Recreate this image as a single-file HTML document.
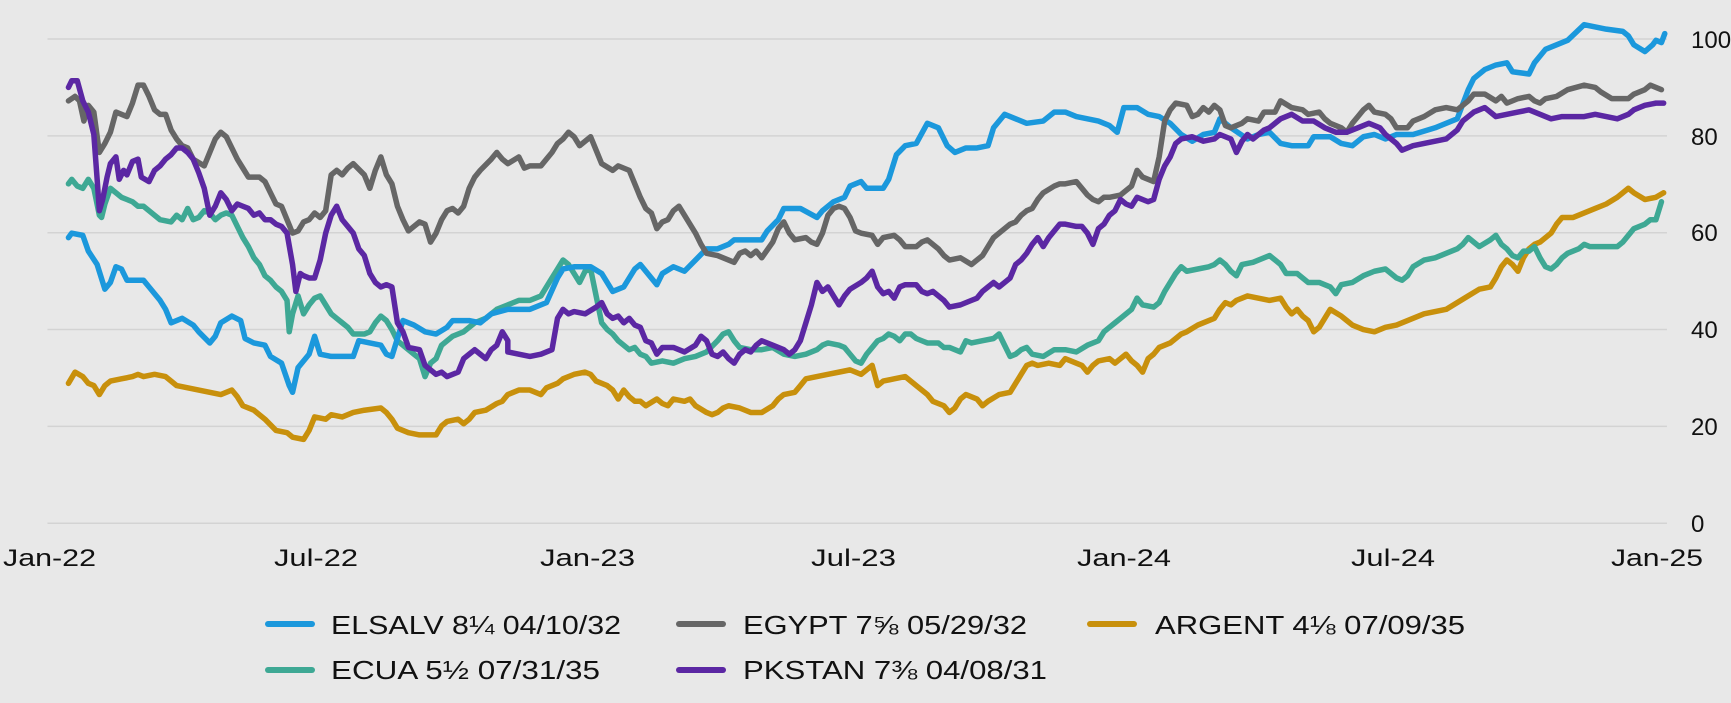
<!DOCTYPE html>
<html><head><meta charset="utf-8"><style>
html,body{margin:0;padding:0;background:#e8e8e8;}
svg{display:block;}
text{font-family:"Liberation Sans",sans-serif;fill:#111;}
</style></head><body>
<svg width="1731" height="703" viewBox="0 0 1731 703" xmlns="http://www.w3.org/2000/svg">
<rect width="1731" height="703" fill="#e8e8e8"/>
<svg x="0" y="0" width="1731" height="703" viewBox="0 0 1568 1568" preserveAspectRatio="none">
<g stroke="#d3d3d3" stroke-width="1.5" vector-effect="non-scaling-stroke">
<line x1="43" x2="1510" y1="87" y2="87" vector-effect="non-scaling-stroke"/>
<line x1="43" x2="1510" y1="303" y2="303" vector-effect="non-scaling-stroke"/>
<line x1="43" x2="1510" y1="519" y2="519" vector-effect="non-scaling-stroke"/>
<line x1="43" x2="1510" y1="735" y2="735" vector-effect="non-scaling-stroke"/>
<line x1="43" x2="1510" y1="951" y2="951" vector-effect="non-scaling-stroke"/>
<line x1="43" x2="1510" y1="1167" y2="1167" vector-effect="non-scaling-stroke"/>
</g>
<g fill="none" stroke-width="5.5" stroke-linejoin="round" stroke-linecap="round">
<polyline vector-effect="non-scaling-stroke" stroke="#c8900c" points="62,855 68,830 75,840 80,855 85,860 90,880 95,860 100,850 110,845 120,840 125,835 130,840 140,835 150,840 160,860 170,865 180,870 190,875 200,880 210,870 215,885 220,905 230,915 240,935 250,960 260,965 265,975 275,980 280,960 285,930 295,935 300,925 310,930 320,920 330,915 345,910 350,920 355,935 360,955 370,965 380,970 395,970 400,950 405,940 415,935 420,945 425,935 430,920 440,915 450,900 455,895 460,880 470,870 480,870 490,880 495,865 505,855 510,845 520,835 530,830 535,835 540,850 545,855 550,860 555,870 560,890 565,870 570,885 575,895 580,895 585,905 595,890 600,900 605,905 610,890 620,895 625,890 630,905 640,920 645,925 650,920 655,910 660,905 670,910 680,920 690,920 700,905 705,890 710,880 720,875 725,860 730,845 740,840 750,835 760,830 770,825 780,835 785,825 790,815 795,860 800,850 810,845 820,840 825,850 830,860 840,880 845,895 855,905 860,920 865,910 870,890 875,880 885,890 890,905 895,895 905,880 915,875 920,855 925,835 930,815 935,810 940,815 950,810 960,815 965,800 975,810 980,815 985,830 990,815 995,805 1005,800 1010,810 1015,800 1020,790 1025,805 1030,815 1035,830 1040,800 1045,790 1050,775 1060,765 1065,755 1070,745 1075,740 1085,725 1095,715 1100,710 1105,690 1110,675 1115,680 1120,670 1125,665 1130,660 1140,665 1150,670 1160,665 1165,685 1170,700 1175,690 1180,705 1185,715 1190,740 1195,730 1205,690 1215,705 1220,715 1225,725 1235,735 1245,740 1255,730 1265,725 1275,715 1280,710 1290,700 1300,695 1310,690 1320,675 1330,660 1340,645 1350,640 1355,620 1360,595 1365,580 1370,590 1375,605 1380,575 1385,555 1390,545 1395,540 1400,530 1405,520 1410,500 1415,485 1425,485 1435,475 1445,465 1455,455 1465,440 1475,420 1480,430 1490,445 1500,440 1507,430"/>
<polyline vector-effect="non-scaling-stroke" stroke="#3ea894" points="62,410 65,400 70,415 75,420 80,400 85,420 90,480 92,485 95,455 100,420 105,430 110,440 115,445 120,450 125,460 130,460 135,470 140,480 145,490 155,495 160,480 165,490 170,465 175,490 180,485 185,470 190,475 195,490 200,480 205,475 210,480 215,505 220,530 225,550 230,575 235,590 240,615 245,625 250,640 255,650 260,670 262,740 265,700 270,660 275,700 280,680 285,665 290,660 295,680 300,700 305,710 310,720 315,730 320,745 330,745 335,740 340,720 345,705 350,715 355,735 360,760 365,770 370,780 375,790 380,800 385,840 390,810 395,800 400,770 410,750 420,740 430,720 440,710 450,690 460,680 470,670 480,670 490,660 500,620 505,600 510,580 515,590 520,610 525,630 530,605 535,600 540,660 545,720 550,735 555,745 560,760 570,780 575,775 580,790 585,795 590,810 600,805 610,810 620,800 630,795 640,785 650,760 655,745 660,740 665,760 670,775 680,780 690,780 700,775 710,790 720,795 730,790 740,780 745,770 750,765 760,770 765,775 770,790 775,805 780,810 785,790 790,775 795,760 800,755 805,745 810,750 815,760 820,745 825,745 830,755 835,760 840,765 850,765 855,775 860,775 865,780 870,785 875,760 880,765 890,760 900,755 905,745 910,770 915,795 920,790 925,780 930,775 935,790 945,795 955,780 965,780 975,785 985,770 995,760 1000,740 1005,730 1010,720 1015,710 1020,700 1025,690 1030,665 1035,680 1045,685 1050,675 1055,650 1060,630 1065,610 1070,595 1075,605 1085,600 1095,595 1100,590 1105,580 1110,590 1115,605 1120,615 1125,590 1135,585 1145,575 1150,570 1155,580 1160,590 1165,610 1175,610 1180,620 1185,630 1195,630 1205,640 1210,655 1215,635 1225,630 1235,615 1245,605 1255,600 1265,620 1270,625 1275,615 1280,595 1290,580 1300,575 1310,565 1320,555 1325,545 1330,530 1335,540 1340,550 1350,535 1355,525 1360,545 1365,555 1370,570 1375,575 1380,560 1385,560 1390,550 1395,575 1400,595 1405,600 1410,590 1415,575 1420,565 1430,555 1435,545 1440,550 1465,550 1470,540 1475,525 1480,510 1485,505 1490,500 1495,490 1500,490 1505,450"/>
<polyline vector-effect="non-scaling-stroke" stroke="#1b98dc" points="62,530 65,520 75,525 80,560 88,590 95,645 100,630 105,595 110,600 115,625 130,625 135,640 145,670 150,690 155,720 165,710 175,725 180,740 190,765 195,750 200,720 210,705 218,715 222,755 230,765 240,770 245,795 255,810 262,860 265,875 270,820 280,790 285,750 290,790 300,795 320,795 325,760 335,765 345,770 350,790 355,795 365,715 375,725 385,740 395,745 405,730 410,715 425,715 435,720 445,700 460,690 480,690 495,675 505,620 510,600 520,595 535,595 545,610 555,650 565,640 575,600 580,590 590,620 595,635 600,610 610,595 620,605 630,580 640,555 650,555 660,545 665,535 690,535 695,515 705,490 710,465 725,465 740,485 745,470 755,450 765,440 770,415 780,405 785,420 800,420 805,400 812,345 820,325 830,320 840,275 850,285 858,325 865,340 875,330 885,330 895,325 900,285 910,255 920,265 930,275 945,270 955,250 965,250 975,260 985,265 995,270 1005,280 1012,295 1018,240 1030,240 1040,255 1050,260 1060,275 1070,300 1080,315 1090,300 1100,295 1105,265 1115,285 1130,310 1140,300 1150,295 1160,320 1170,325 1185,325 1190,305 1205,305 1215,320 1225,325 1235,305 1245,300 1255,310 1265,300 1280,300 1300,285 1320,265 1330,200 1335,175 1345,155 1355,145 1365,140 1370,160 1385,165 1390,140 1400,110 1410,100 1420,90 1435,55 1445,60 1455,65 1470,70 1475,80 1480,100 1490,115 1497,100 1500,90 1505,95 1508,75"/>
<polyline vector-effect="non-scaling-stroke" stroke="#666666" points="62,225 68,215 72,225 76,270 80,235 85,250 90,340 95,320 100,295 105,250 110,255 115,260 120,230 125,190 130,190 135,215 140,245 145,255 150,255 155,290 160,310 165,325 170,330 175,355 185,370 190,340 195,310 200,295 205,305 210,330 215,355 220,375 225,395 235,395 240,405 245,430 250,455 255,460 260,490 265,520 270,515 275,495 280,490 285,475 290,485 295,470 300,390 305,380 310,390 315,375 320,365 330,390 335,420 340,380 345,350 350,390 355,410 360,460 365,490 370,515 375,505 380,495 385,500 390,540 395,520 400,490 405,470 410,465 415,475 420,460 425,420 430,395 435,380 445,355 450,340 455,355 460,365 470,350 475,375 480,370 490,370 495,355 500,340 505,320 510,310 515,295 520,305 525,325 530,315 535,305 540,335 545,365 555,380 560,370 570,380 575,410 580,440 585,465 590,475 595,510 600,495 605,490 610,470 615,460 620,480 625,500 630,520 635,545 640,565 650,570 655,575 665,585 670,565 675,560 680,570 685,560 690,575 700,540 705,510 710,495 715,520 720,535 730,530 735,540 740,545 745,520 750,480 755,465 760,460 765,465 770,485 775,515 780,520 790,525 795,545 800,530 810,525 815,535 820,550 830,550 835,540 840,535 845,545 850,555 855,570 860,580 870,575 880,590 885,580 890,570 895,550 900,530 905,520 910,510 915,500 920,495 925,480 930,470 935,465 940,445 945,430 955,415 960,410 965,410 975,405 980,420 985,435 990,445 995,450 1000,440 1005,440 1015,435 1020,425 1025,415 1030,380 1035,395 1040,400 1045,405 1050,350 1055,270 1060,245 1065,230 1075,235 1080,260 1085,255 1090,240 1095,250 1100,235 1105,245 1110,280 1115,285 1125,275 1130,265 1140,270 1145,250 1155,250 1160,225 1170,240 1180,245 1185,255 1195,250 1200,265 1205,275 1215,285 1220,295 1225,275 1230,260 1235,245 1240,235 1245,250 1255,255 1260,265 1265,285 1275,285 1280,270 1290,260 1300,245 1310,240 1320,245 1330,225 1335,210 1345,210 1355,225 1360,215 1365,230 1375,220 1385,215 1390,225 1395,230 1400,220 1410,215 1420,200 1435,190 1445,195 1450,205 1460,220 1475,220 1480,210 1490,200 1495,190 1505,200"/>
<polyline vector-effect="non-scaling-stroke" stroke="#5b27a3" points="62,195 65,180 70,180 75,225 80,250 85,300 88,400 90,470 93,445 97,395 100,365 105,350 108,400 112,380 115,390 120,360 125,355 128,395 135,405 140,380 145,370 150,355 155,345 160,330 165,330 170,340 175,355 180,385 185,420 190,480 195,460 200,430 205,445 210,470 215,455 220,460 225,465 230,480 235,475 240,490 245,490 250,500 255,505 260,520 265,590 268,650 272,610 275,615 280,620 285,620 290,580 295,520 300,480 305,460 310,490 315,505 320,520 325,555 330,570 335,610 340,630 345,640 350,635 355,640 360,720 365,740 370,775 380,780 385,815 390,825 395,835 400,830 405,840 415,830 420,800 425,790 430,780 435,790 440,800 445,780 450,770 455,740 460,760 460,785 470,790 480,795 490,790 500,780 505,710 510,690 515,700 520,695 530,700 540,685 545,675 550,700 555,710 560,705 565,720 570,710 575,725 580,730 585,760 590,765 595,790 600,775 610,775 620,785 630,770 635,750 640,760 645,790 650,795 655,785 660,800 665,810 670,790 675,780 680,785 685,770 690,760 700,770 710,780 715,790 720,780 725,760 730,720 735,680 740,630 745,650 750,640 755,660 760,680 765,660 770,645 780,630 785,620 790,605 795,640 800,655 805,650 810,665 815,640 820,635 830,635 835,650 840,655 845,650 850,660 855,670 860,685 870,680 880,670 885,665 890,650 895,640 900,630 905,640 910,630 915,620 920,590 925,580 930,565 935,545 940,530 945,550 950,530 955,515 960,500 965,500 975,505 980,505 985,520 990,545 995,510 1000,500 1005,480 1010,470 1015,445 1020,455 1025,460 1030,440 1040,450 1045,445 1050,400 1055,370 1060,350 1065,320 1070,310 1080,305 1090,315 1100,310 1105,300 1115,310 1120,340 1125,315 1130,300 1135,310 1140,300 1145,290 1150,285 1160,265 1170,255 1180,270 1190,270 1200,285 1210,295 1220,295 1230,285 1240,275 1250,285 1255,300 1265,320 1270,335 1280,325 1290,320 1300,315 1310,310 1320,290 1325,270 1335,250 1345,240 1355,260 1365,255 1375,250 1385,245 1395,255 1405,265 1415,260 1425,260 1435,260 1445,255 1455,260 1465,265 1475,255 1480,245 1490,235 1500,230 1507,230"/>
</g>
</svg>
<g font-size="24">
<text x="1691" y="48">100</text>
<text x="1691" y="145">80</text>
<text x="1691" y="241">60</text>
<text x="1691" y="338">40</text>
<text x="1691" y="435">20</text>
<text x="1691" y="532">0</text>
</g>
<g font-size="24">
<text x="3" y="566" textLength="93" lengthAdjust="spacingAndGlyphs">Jan-22</text>
<text x="274" y="566" textLength="84" lengthAdjust="spacingAndGlyphs">Jul-22</text>
<text x="540" y="566" textLength="95" lengthAdjust="spacingAndGlyphs">Jan-23</text>
<text x="811" y="566" textLength="85" lengthAdjust="spacingAndGlyphs">Jul-23</text>
<text x="1077" y="566" textLength="94" lengthAdjust="spacingAndGlyphs">Jan-24</text>
<text x="1351" y="566" textLength="84" lengthAdjust="spacingAndGlyphs">Jul-24</text>
<text x="1611" y="566" textLength="92" lengthAdjust="spacingAndGlyphs">Jan-25</text>
</g>
<g stroke-width="6" stroke-linecap="round">
<line x1="268" x2="312" y1="624" y2="624" stroke="#1b98dc"/>
<line x1="679" x2="723" y1="624" y2="624" stroke="#666666"/>
<line x1="1090" x2="1134" y1="624" y2="624" stroke="#c8900c"/>
<line x1="268" x2="312" y1="670" y2="670" stroke="#3ea894"/>
<line x1="679" x2="723" y1="670" y2="670" stroke="#5b27a3"/>
</g>
<g font-size="26">
<text x="331" y="634" textLength="290" lengthAdjust="spacingAndGlyphs">ELSALV 8¼ 04/10/32</text>
<text x="743" y="634" textLength="284" lengthAdjust="spacingAndGlyphs">EGYPT 7⅝ 05/29/32</text>
<text x="1155" y="634" textLength="310" lengthAdjust="spacingAndGlyphs">ARGENT 4⅛ 07/09/35</text>
<text x="331" y="679" textLength="269" lengthAdjust="spacingAndGlyphs">ECUA 5½  07/31/35</text>
<text x="743" y="679" textLength="304" lengthAdjust="spacingAndGlyphs">PKSTAN 7⅜ 04/08/31</text>
</g>
</svg>
</body></html>
